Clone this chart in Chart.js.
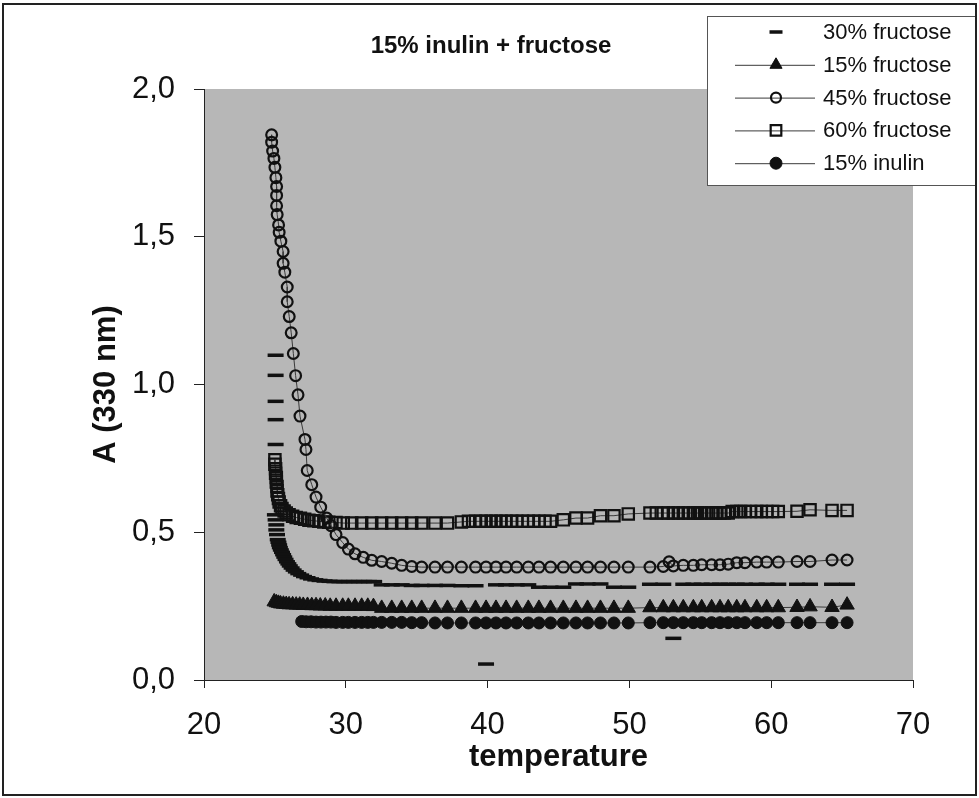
<!DOCTYPE html>
<html>
<head>
<meta charset="utf-8">
<script src="https://cdn.jsdelivr.net/npm/chart.js@4.4.1/dist/chart.umd.min.js"></script>
<style>
  html, body { margin: 0; padding: 0; background: #ffffff; }
  canvas { display: block; }
</style>
</head>
<body>
<canvas id="c" width="979" height="798"></canvas>
<script>
// ---------------- DATA ----------------
const chartTitle = '15% inulin + fructose';
const xAxisTitle = 'temperature';
const yAxisTitle = 'A (330 nm)';
const xTickLabels = ['20', '30', '40', '50', '60', '70'];
const yTickLabels = ['0,0', '0,5', '1,0', '1,5', '2,0'];
const seriesNames = ['30% fructose', '15% fructose', '45% fructose', '60% fructose', '15% inulin'];

// 30% fructose (dash markers, no line)
const t30 = [
  25.05, 25.05, 25.05, 25.05, 25.05, 25.00, 25.05, 25.10, 25.10, 25.15,
  25.20, 25.25, 25.30, 25.35, 25.42, 25.50, 25.58, 25.66, 25.75, 25.85,
  25.95, 26.05, 26.18, 26.32, 26.48, 26.65, 26.85, 27.05, 27.30, 27.55,
  27.85, 28.15, 28.50, 28.85, 29.20, 29.55, 29.90, 30.25, 30.60, 30.95,
  31.30, 31.65, 32.00, 32.53, 33.24, 33.94, 34.65, 35.35, 36.29, 37.17,
  38.15, 39.15, 39.89, 40.59, 41.30, 42.05, 42.87, 43.62, 44.44, 45.34,
  46.23, 47.05, 47.96, 48.91, 49.92, 51.45, 52.39, 53.10, 53.80, 54.51,
  55.10, 55.80, 56.39, 56.97, 57.57, 58.15, 58.98, 59.68, 60.50, 61.82,
  62.74, 64.29, 65.35
];
const a30 = [
  1.099, 1.031, 0.943, 0.881, 0.797, 0.559, 0.542, 0.525, 0.508, 0.492,
  0.475, 0.466, 0.457, 0.448, 0.440, 0.432, 0.424, 0.416, 0.408, 0.400,
  0.393, 0.386, 0.379, 0.372, 0.366, 0.360, 0.355, 0.350, 0.346, 0.342,
  0.339, 0.337, 0.335, 0.334, 0.333, 0.333, 0.333, 0.333, 0.333, 0.333,
  0.333, 0.333, 0.333, 0.322, 0.322, 0.322, 0.320, 0.320, 0.320, 0.320,
  0.319, 0.319, 0.054, 0.322, 0.322, 0.322, 0.322, 0.314, 0.314, 0.314,
  0.325, 0.325, 0.325, 0.314, 0.314, 0.324, 0.324, 0.141, 0.324, 0.324,
  0.324, 0.324, 0.324, 0.324, 0.324, 0.324, 0.324, 0.324, 0.324, 0.324,
  0.324, 0.324, 0.324
];

// 15% fructose (filled triangles)
const t15 = [
  24.95, 25.10, 25.25, 25.40, 25.60, 25.80, 26.00, 26.25, 26.50, 26.75,
  27.00, 27.30, 27.60, 27.90, 28.20, 28.55, 28.90, 29.31, 29.78, 30.18,
  30.65, 31.12, 31.55, 31.95, 32.53, 33.24, 33.94, 34.65, 35.35, 36.29,
  37.17, 38.15, 39.15, 39.89, 40.59, 41.30, 42.05, 42.87, 43.62, 44.44,
  45.34, 46.23, 47.05, 47.96, 48.91, 49.92, 51.45, 52.39, 53.10, 53.80,
  54.51, 55.10, 55.80, 56.39, 56.97, 57.57, 58.15, 58.98, 59.68, 60.50,
  61.82, 62.74, 64.29, 65.35
];
const a15 = [
  0.265, 0.262, 0.260, 0.258, 0.257, 0.256, 0.255, 0.255, 0.254, 0.254,
  0.253, 0.253, 0.252, 0.252, 0.251, 0.251, 0.250, 0.250, 0.250, 0.250,
  0.250, 0.250, 0.250, 0.249, 0.243, 0.243, 0.243, 0.243, 0.243, 0.243,
  0.243, 0.243, 0.243, 0.243, 0.243, 0.243, 0.243, 0.243, 0.243, 0.243,
  0.243, 0.243, 0.243, 0.243, 0.243, 0.243, 0.245, 0.245, 0.245, 0.245,
  0.245, 0.245, 0.245, 0.245, 0.245, 0.245, 0.245, 0.245, 0.245, 0.245,
  0.246, 0.248, 0.246, 0.254
];

// 45% fructose (open circles)
const t45 = [
  24.77, 24.77, 24.84, 24.93, 25.00, 25.07, 25.12, 25.12, 25.12, 25.16,
  25.26, 25.30, 25.42, 25.58, 25.58, 25.70, 25.87, 25.87, 26.01, 26.15,
  26.30, 26.46, 26.63, 26.77, 27.12, 27.19, 27.28, 27.60, 27.90, 28.23,
  28.65, 28.96, 29.31, 29.78, 30.18, 30.65, 31.23, 31.83, 32.53, 33.24,
  33.94, 34.65, 35.35, 36.29, 37.17, 38.15, 39.15, 39.89, 40.59, 41.30,
  42.05, 42.87, 43.62, 44.44, 45.34, 46.23, 47.05, 47.96, 48.91, 49.92,
  51.45, 52.39, 52.80, 53.10, 53.80, 54.51, 55.10, 55.80, 56.39, 56.97,
  57.57, 58.15, 58.98, 59.68, 60.50, 61.82, 62.74, 64.29, 65.35
];
const a45 = [
  1.845, 1.820, 1.790, 1.765, 1.735, 1.700, 1.670, 1.640, 1.605, 1.575,
  1.540, 1.515, 1.485, 1.450, 1.410, 1.380, 1.330, 1.280, 1.230, 1.175,
  1.105, 1.030, 0.965, 0.893, 0.814, 0.780, 0.709, 0.661, 0.619, 0.585,
  0.548, 0.522, 0.492, 0.465, 0.443, 0.427, 0.415, 0.405, 0.401, 0.395,
  0.388, 0.384, 0.382, 0.382, 0.382, 0.382, 0.382, 0.382, 0.382, 0.382,
  0.382, 0.382, 0.382, 0.382, 0.382, 0.382, 0.382, 0.382, 0.382, 0.382,
  0.382, 0.384, 0.400, 0.386, 0.388, 0.388, 0.390, 0.390, 0.390, 0.392,
  0.397, 0.397, 0.399, 0.399, 0.399, 0.401, 0.401, 0.406, 0.406
];

// 60% fructose (open squares)
const t60 = [
  25.00, 25.00, 25.05, 25.05, 25.10, 25.10, 25.15, 25.15, 25.20, 25.25,
  25.30, 25.40, 25.50, 25.65, 25.80, 26.00, 26.25, 26.50, 26.80, 27.10,
  27.40, 27.75, 28.10, 28.45, 28.80, 29.31, 29.82, 30.42, 31.12, 31.83,
  32.53, 33.24, 33.94, 34.65, 35.35, 36.29, 37.17, 38.15, 38.65, 39.15,
  39.55, 39.89, 40.25, 40.59, 40.95, 41.30, 41.70, 42.05, 42.45, 42.87,
  43.25, 43.62, 44.05, 44.44, 45.34, 46.23, 47.05, 47.96, 48.91, 49.92,
  51.45, 51.90, 52.39, 52.75, 53.10, 53.45, 53.80, 54.15, 54.51, 54.80,
  55.10, 55.45, 55.80, 56.10, 56.39, 56.70, 56.97, 57.25, 57.57, 57.85,
  58.15, 58.55, 58.98, 59.30, 59.68, 60.10, 60.50, 61.82, 62.74, 64.29,
  65.35
];
const a60 = [
  0.745, 0.730, 0.715, 0.700, 0.685, 0.670, 0.655, 0.640, 0.627, 0.614,
  0.602, 0.590, 0.580, 0.572, 0.565, 0.559, 0.554, 0.550, 0.547, 0.544,
  0.541, 0.539, 0.537, 0.535, 0.534, 0.533, 0.531, 0.531, 0.531, 0.531,
  0.531, 0.531, 0.531, 0.531, 0.531, 0.531, 0.531, 0.535, 0.537, 0.537,
  0.537, 0.537, 0.537, 0.537, 0.537, 0.537, 0.537, 0.537, 0.537, 0.537,
  0.537, 0.537, 0.537, 0.537, 0.542, 0.548, 0.548, 0.556, 0.556, 0.562,
  0.565, 0.565, 0.565, 0.565, 0.565, 0.565, 0.565, 0.565, 0.565, 0.565,
  0.565, 0.565, 0.565, 0.565, 0.565, 0.565, 0.565, 0.570, 0.570, 0.570,
  0.570, 0.570, 0.570, 0.570, 0.570, 0.570, 0.570, 0.571, 0.576, 0.574,
  0.574
];

// 15% inulin (filled circles)
const tIn = [
  26.89, 27.20, 27.55, 27.90, 28.25, 28.60, 28.95, 29.31, 29.78, 30.18,
  30.65, 31.12, 31.55, 31.95, 32.53, 33.24, 33.94, 34.65, 35.35, 36.29,
  37.17, 38.15, 39.15, 39.89, 40.59, 41.30, 42.05, 42.87, 43.62, 44.44,
  45.34, 46.23, 47.05, 47.96, 48.91, 49.92, 51.45, 52.39, 53.10, 53.80,
  54.51, 55.10, 55.80, 56.39, 56.97, 57.57, 58.15, 58.98, 59.68, 60.50,
  61.82, 62.74, 64.29, 65.35
];
const aIn = [
  0.198, 0.197, 0.197, 0.196, 0.196, 0.196, 0.196, 0.195, 0.195, 0.195,
  0.195, 0.195, 0.195, 0.195, 0.195, 0.195, 0.195, 0.194, 0.194, 0.193,
  0.193, 0.193, 0.193, 0.193, 0.193, 0.193, 0.193, 0.193, 0.193, 0.193,
  0.193, 0.193, 0.193, 0.193, 0.193, 0.193, 0.194, 0.194, 0.194, 0.194,
  0.194, 0.194, 0.194, 0.194, 0.194, 0.194, 0.194, 0.194, 0.194, 0.194,
  0.194, 0.194, 0.194, 0.194
];

// ---------------- BUILD ----------------
const pts = (t, a) => t.map((x, i) => ({ x: x, y: a[i] }));
const FONT = "'Liberation Sans', Arial, Helvetica, sans-serif";
const MARK = '#111111';
const LINE = '#3a3a3a';

const datasets = [
  { label: seriesNames[0], data: pts(t30, a30), showLine: false,
    pointStyle: 'line', pointRadius: 8, pointBorderWidth: 3.5,
    pointBorderColor: MARK, pointBackgroundColor: MARK, borderColor: MARK, borderWidth: 0 },
  { label: seriesNames[1], data: pts(t15, a15), showLine: true,
    pointStyle: 'triangle', pointRadius: 8.3, pointBorderWidth: 1,
    pointBorderColor: MARK, pointBackgroundColor: MARK, borderColor: LINE, borderWidth: 1 },
  { label: seriesNames[2], data: pts(t45, a45), showLine: true,
    pointStyle: 'circle', pointRadius: 5.4, pointBorderWidth: 2.2,
    pointBorderColor: MARK, pointBackgroundColor: 'rgba(0,0,0,0)', borderColor: LINE, borderWidth: 1 },
  { label: seriesNames[3], data: pts(t60, a60), showLine: true,
    pointStyle: 'rect', pointRadius: 8, pointBorderWidth: 2.2,
    pointBorderColor: MARK, pointBackgroundColor: 'rgba(0,0,0,0)', borderColor: LINE, borderWidth: 1 },
  { label: seriesNames[4], data: pts(tIn, aIn), showLine: true,
    pointStyle: 'circle', pointRadius: 6, pointBorderWidth: 1,
    pointBorderColor: MARK, pointBackgroundColor: MARK, borderColor: LINE, borderWidth: 1 }
];

function drawMarker(ctx, ds, x, y) {
  ctx.save();
  ctx.strokeStyle = ds.pointBorderColor;
  ctx.fillStyle = ds.pointBackgroundColor;
  ctx.lineWidth = ds.pointBorderWidth;
  const opts = { pointStyle: ds.pointStyle, radius: ds.pointRadius, rotation: 0, borderWidth: ds.pointBorderWidth };
  if (Chart.helpers && Chart.helpers.drawPoint) {
    Chart.helpers.drawPoint(ctx, opts, x, y);
  } else {
    const r = ds.pointRadius;
    ctx.beginPath();
    if (ds.pointStyle === 'circle') ctx.arc(x, y, r, 0, Math.PI * 2);
    else if (ds.pointStyle === 'rect') { const s = r * Math.SQRT1_2; ctx.rect(x - s, y - s, 2 * s, 2 * s); }
    else if (ds.pointStyle === 'triangle') {
      ctx.moveTo(x, y - r);
      ctx.lineTo(x + r * Math.sin(2 * Math.PI / 3), y - r * Math.cos(2 * Math.PI / 3));
      ctx.lineTo(x + r * Math.sin(4 * Math.PI / 3), y - r * Math.cos(4 * Math.PI / 3));
      ctx.closePath();
    } else { ctx.moveTo(x - r, y); ctx.lineTo(x + r, y); }
    if (ds.pointStyle !== 'line') ctx.fill();
    ctx.stroke();
  }
  ctx.restore();
}

const decorPlugin = {
  id: 'decor',
  beforeDraw(chart) {
    const { ctx, chartArea: a } = chart;
    ctx.save();
    ctx.fillStyle = '#ffffff';
    ctx.fillRect(0, 0, chart.width, chart.height);
    ctx.fillStyle = '#b7b7b7';
    ctx.fillRect(a.left, a.top, a.right - a.left, a.bottom - a.top);
    ctx.restore();
  },
  afterDraw(chart) {
    const ctx = chart.ctx;
    ctx.save();
    // chart title
    ctx.fillStyle = '#111';
    ctx.font = "bold 24px " + FONT;
    ctx.textAlign = 'center';
    ctx.textBaseline = 'middle';
    ctx.fillText(chartTitle, 491, 46);
    // legend box
    ctx.fillStyle = '#ffffff';
    ctx.fillRect(707, 16, 268, 169);
    ctx.strokeStyle = '#555';
    ctx.lineWidth = 1;
    ctx.strokeRect(707.5, 16.5, 268, 169);
    const legendSizes = [6.5, 7, 5, 7.5, 6];
    chart.data.datasets.forEach((ds, i) => {
      const y = 32 + i * 32.8;
      if (ds.showLine) {
        ctx.strokeStyle = LINE;
        ctx.lineWidth = 1;
        ctx.beginPath();
        ctx.moveTo(735, y + 0.5);
        ctx.lineTo(815, y + 0.5);
        ctx.stroke();
      }
      const legendDs = Object.assign({}, ds, { pointRadius: legendSizes[i] });
      drawMarker(ctx, legendDs, 776, y);
      ctx.fillStyle = '#111';
      ctx.font = "22px " + FONT;
      ctx.textAlign = 'left';
      ctx.textBaseline = 'middle';
      ctx.fillText(ds.label, 823, y + 1);
    });
    // outer frame
    ctx.strokeStyle = '#222';
    ctx.lineWidth = 2;
    ctx.strokeRect(3, 4, 973, 791);
    ctx.restore();
  }
};

new Chart(document.getElementById('c'), {
  type: 'scatter',
  data: { datasets: datasets },
  options: {
    responsive: false,
    devicePixelRatio: 1,
    animation: false,
    events: [],
    layout: { padding: { top: 89, right: 66, bottom: 0, left: 0 } },
    plugins: {
      legend: { display: false },
      title: { display: false },
      tooltip: { enabled: false }
    },
    scales: {
      x: {
        type: 'linear', min: 20, max: 70,
        ticks: {
          stepSize: 10, padding: 19, maxRotation: 0, color: '#111',
          font: { family: FONT, size: 31 },
          callback: (v, i) => xTickLabels[i]
        },
        grid: { drawOnChartArea: false, drawTicks: true, tickLength: 8, color: '#222', lineWidth: 1 },
        border: { display: true, color: '#222', width: 1 },
        title: { display: true, text: xAxisTitle, color: '#111',
          font: { family: FONT, size: 31, weight: 'bold' }, padding: { top: 0, bottom: 22 } },
        afterFit: (s) => { s.height = 118; }
      },
      y: {
        type: 'linear', min: 0, max: 2,
        ticks: {
          stepSize: 0.5, padding: 19, color: '#111',
          font: { family: FONT, size: 31 },
          callback: (v, i) => yTickLabels[i]
        },
        grid: { drawOnChartArea: false, drawTicks: true, tickLength: 10, color: '#222', lineWidth: 1 },
        border: { display: true, color: '#222', width: 1 },
        title: { display: true, text: yAxisTitle, color: '#111',
          font: { family: FONT, size: 31, weight: 'bold' }, padding: { top: 88, bottom: 0 } },
        afterFit: (s) => { s.width = 204; }
      }
    }
  },
  plugins: [decorPlugin]
});
</script>
</body>
</html>
